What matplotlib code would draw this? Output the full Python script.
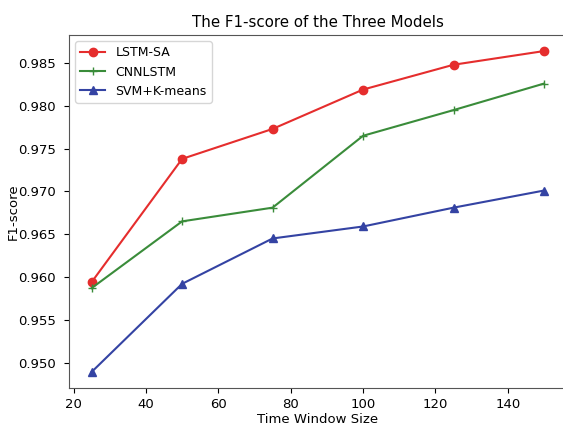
import matplotlib
matplotlib.use("Agg")
import matplotlib.pyplot as plt

window_sizes = [25, 50, 75, 100, 125, 150]
lstm_sa = [0.9594, 0.9738, 0.9773, 0.9819, 0.9848, 0.9864]
cnnlstm = [0.9587, 0.9665, 0.9681, 0.9765, 0.9795, 0.9826]
svm_kmeans = [0.9489, 0.9592, 0.9645, 0.9659, 0.9681, 0.9701]

fig = plt.figure(figsize=(5.63, 4.26), dpi=100)
ax = fig.add_axes([0.1226, 0.0892, 0.8838, 0.8286])
ax.plot(window_sizes, lstm_sa, color='#e52d2d', marker='o', label='LSTM-SA')
ax.plot(window_sizes, cnnlstm, color='#3a8c3a', marker='+', label='CNNLSTM')
ax.plot(window_sizes, svm_kmeans, color='#3443a3', marker='^', label='SVM+K-means')
ax.set_title('The F1-score of the Three Models', fontsize=10.8)
ax.set_xlabel('Time Window Size', fontsize=9.5)
ax.set_ylabel('F1-score', fontsize=9.5)
ax.tick_params(axis='y', pad=6, labelsize=9.5)
ax.tick_params(axis='x', labelsize=9.5)
ax.yaxis.set_label_coords(-0.10, 0.5)
ax.xaxis.set_label_coords(0.5, -0.072)
for sp in ax.spines.values():
    sp.set_color('#555555')
ax.legend(loc='upper left', fontsize=9)
fig.savefig('out.png', dpi=100)
